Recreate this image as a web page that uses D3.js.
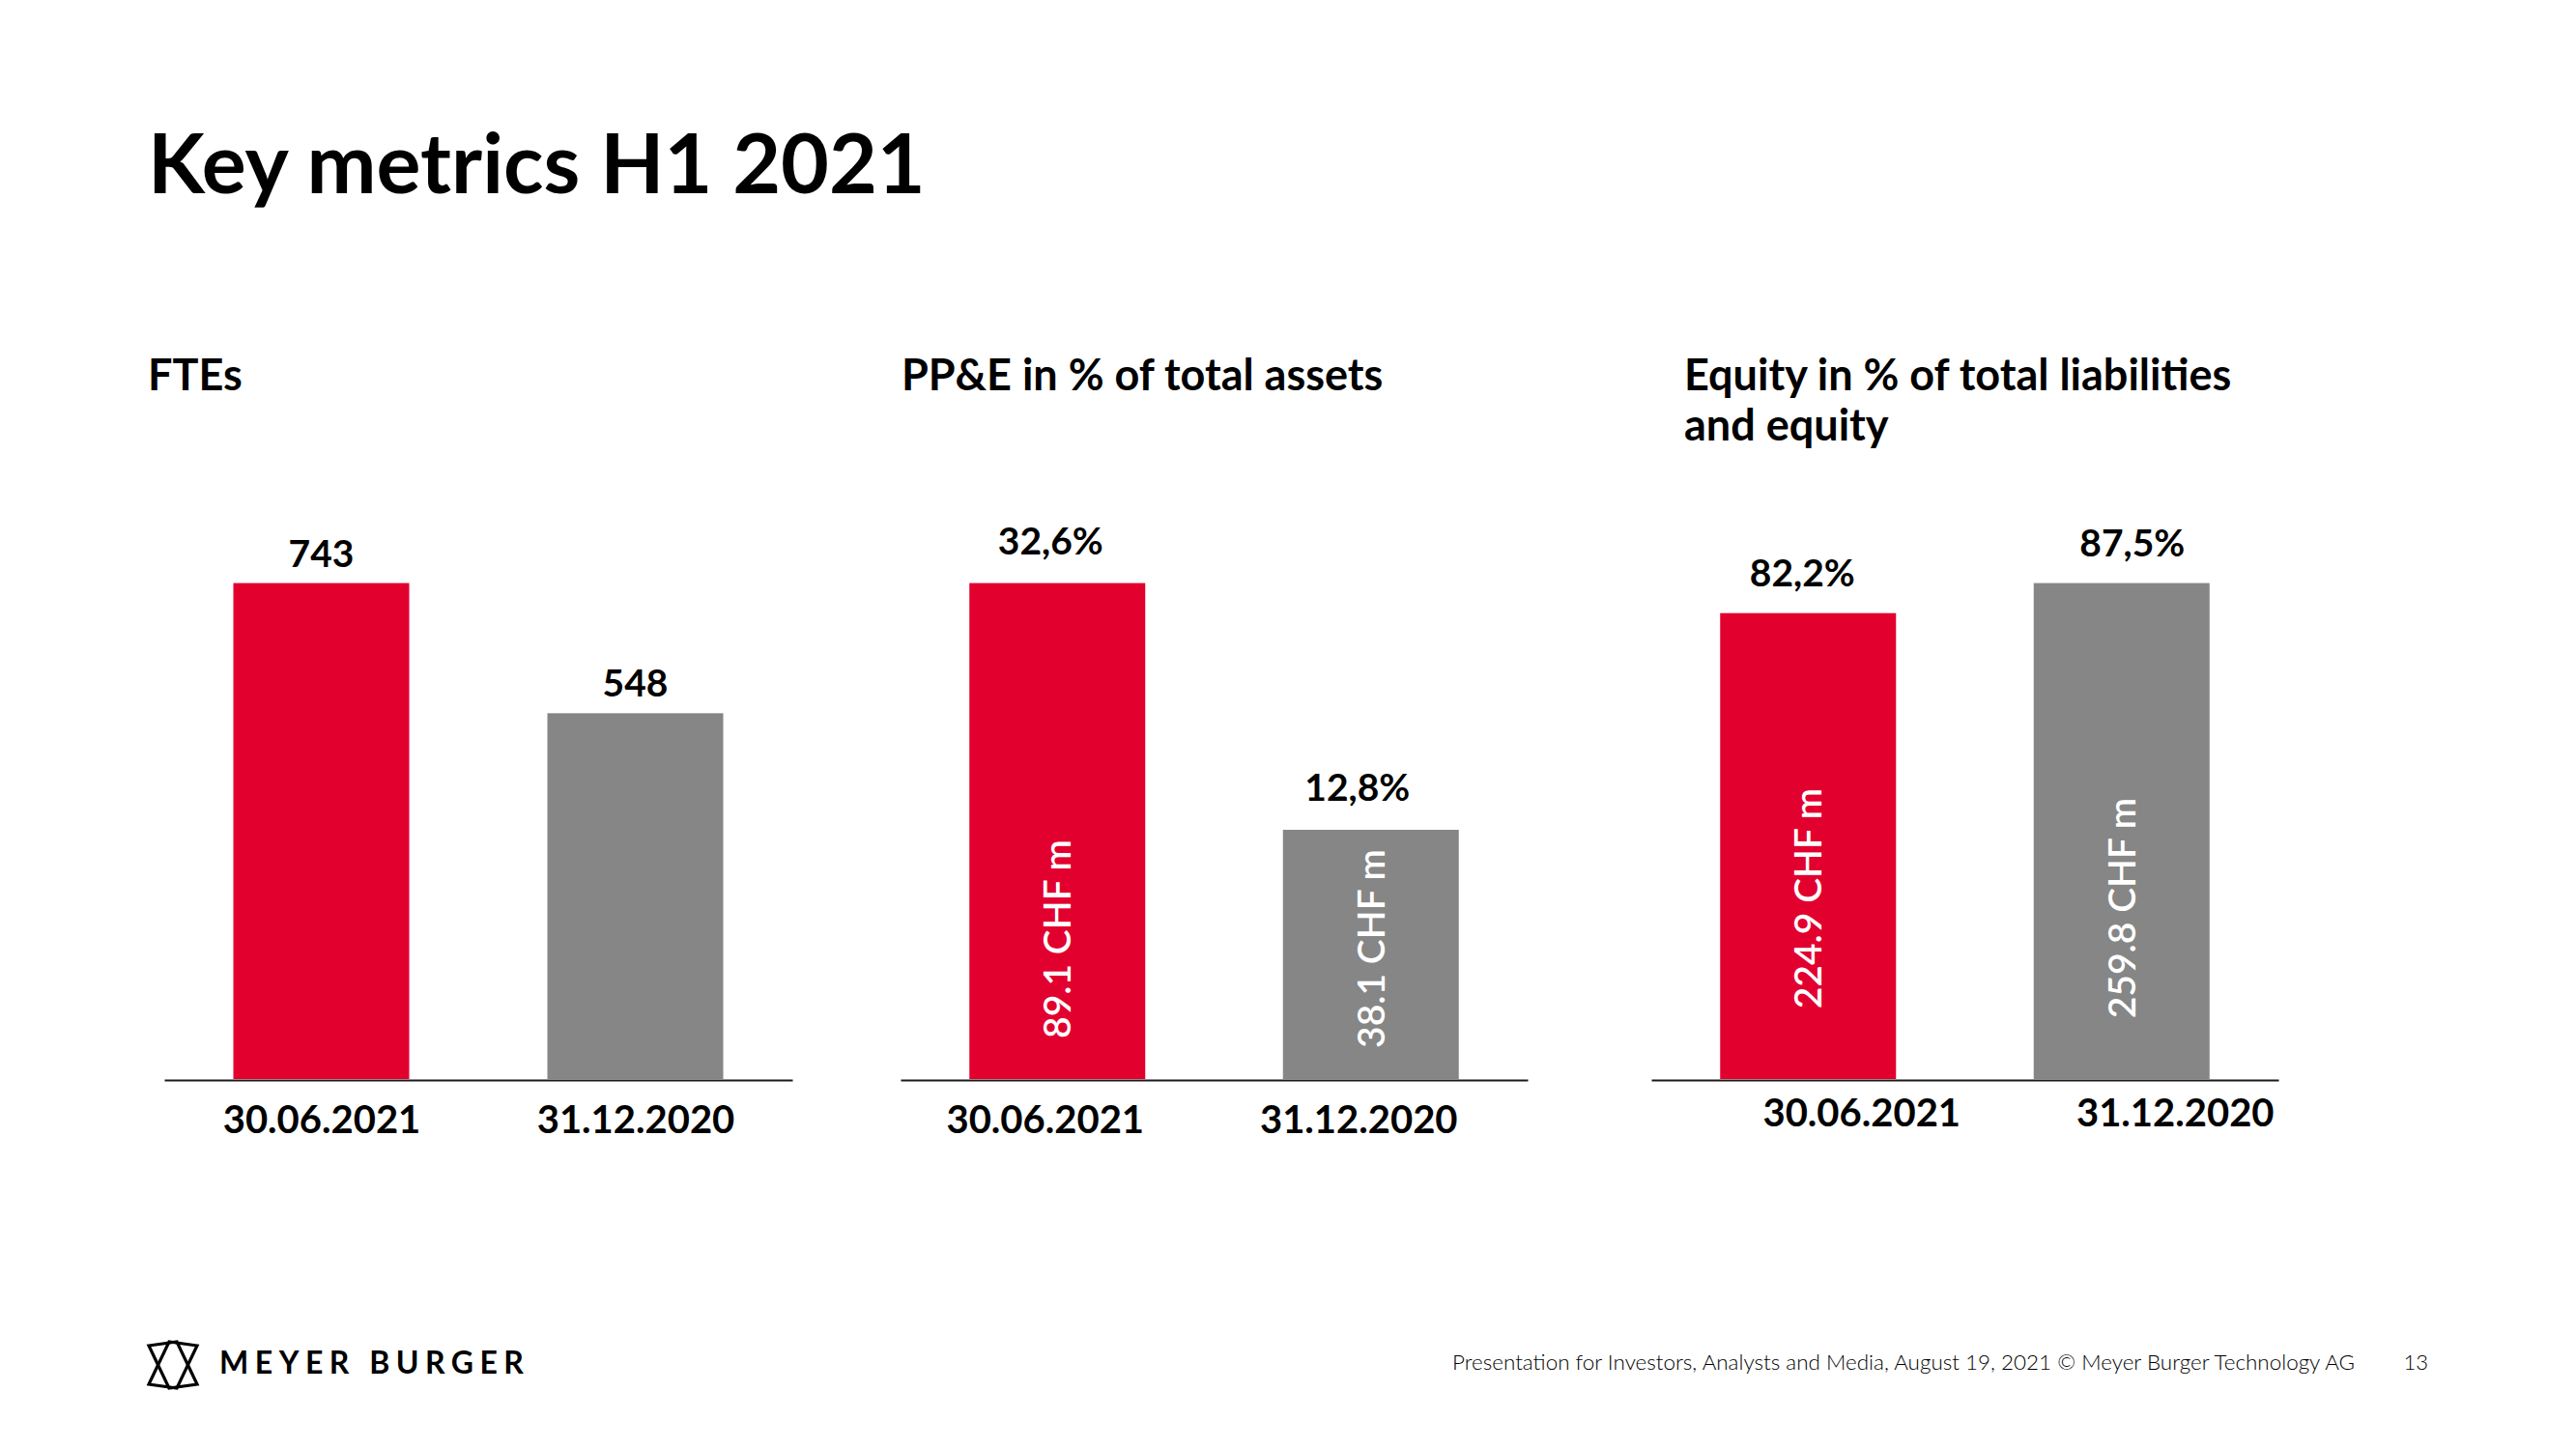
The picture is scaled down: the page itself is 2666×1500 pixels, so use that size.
<!DOCTYPE html>
<html>
<head>
<meta charset="utf-8">
<script src="https://cdn.jsdelivr.net/npm/d3@7/dist/d3.min.js"></script>
<style>
  html, body { margin: 0; padding: 0; background: #fff; }
  svg { display: block; }
  text { font-family: Lato, "Open Sans", sans-serif; }
</style>
</head>
<body>
<svg id="chart" width="2666" height="1500"></svg>
<script>
// ---------- data ----------
const categories = ["30.06.2021", "31.12.2020"];
const fteValues = [743, 548];
const ppeValues = [32.6, 12.8];          // % of total assets
const ppeChfValues = [89.1, 38.1];       // CHF m
const equityValues = [82.2, 87.5];       // % of total liabilities and equity
const equityChfValues = [224.9, 259.8];  // CHF m
const mainTitle = "Key metrics H1 2021";
const panelTitles = [["FTEs"], ["PP&E in % of total assets"], ["Equity in % of total liabilities", "and equity"]];
const footerText = "Presentation for Investors, Analysts and Media, August 19, 2021 \u00A9 Meyer Burger Technology AG";
const pageNumber = "13";
const brandName = "MEYER BURGER";

// ---------- style / layout ----------
const RED = "#E2002F", GREY = "#868686";
const barColors = [RED, GREY];
const plotBottom = 1117, plotTop = 603.6, barWidth = 182;
const pctFmt = v => d3.format(".1f")(v).replace(".", ",") + "%";
const chfFmt = v => d3.format(".1f")(v) + " CHF m";

const panels = [
  { x0: 170, x1: 820, titleX: 153, title: panelTitles[0], values: fteValues, fmt: d3.format("d"),
    domainMin: 0, labelGap: 17, labelDx: [0, 0], tickDx: 0, tickY: 1173, inner: null },
  { x0: 932, x1: 1581, titleX: 933, title: panelTitles[1], values: ppeValues, fmt: pctFmt,
    domainMin: -7.2, labelGap: 30, labelDx: [-7, -14], tickDx: -13, tickY: 1173,
    inner: ppeChfValues, innerMid: [145, 135] },
  { x0: 1709, x1: 2358, titleX: 1743, title: panelTitles[2], values: equityValues, fmt: pctFmt,
    domainMin: 0, labelGap: 28, labelDx: [-6, 11], tickDx: 55, tickY: 1166,
    inner: equityChfValues, innerMid: [187, 177] }
];

const svg = d3.select("#chart");
svg.append("rect").attr("width", 2666).attr("height", 1500).attr("fill", "#fff");

// main title
svg.append("text").attr("x", 153).attr("y", 200)
  .attr("font-size", 86).attr("font-weight", 700).attr("fill", "#000")
  .text(mainTitle);

panels.forEach(p => {
  const g = svg.append("g");
  // panel title
  p.title.forEach((line, i) => {
    g.append("text").attr("x", p.titleX).attr("y", 404 + i * 52)
      .attr("font-size", 45).attr("font-weight", 700).attr("fill", "#000")
      .text(line);
  });

  const x = d3.scalePoint().domain(categories).range([p.x0, p.x1]).padding(0.5);
  const y = d3.scaleLinear().domain([p.domainMin, d3.max(p.values)]).range([plotBottom, plotTop]);

  // bars
  g.selectAll("rect.bar").data(p.values).join("rect")
    .attr("class", "bar")
    .attr("x", (d, i) => x(categories[i]) - barWidth / 2)
    .attr("width", barWidth)
    .attr("y", d => y(d))
    .attr("height", d => plotBottom - y(d))
    .attr("fill", (d, i) => barColors[i]);

  // value labels
  g.selectAll("text.val").data(p.values).join("text")
    .attr("class", "val")
    .attr("x", (d, i) => x(categories[i]) + p.labelDx[i])
    .attr("y", d => y(d) - p.labelGap)
    .attr("text-anchor", "middle")
    .attr("font-size", 39).attr("font-weight", 700).attr("fill", "#000")
    .text(d => p.fmt(d));

  // inner rotated labels
  if (p.inner) {
    g.selectAll("text.inner").data(p.inner).join("text")
      .attr("class", "inner")
      .attr("transform", (d, i) => `translate(${x(categories[i])},${plotBottom - p.innerMid[i]}) rotate(-90)`)
      .attr("text-anchor", "middle")
      .attr("dy", "0.36em")
      .attr("font-size", 39).attr("font-weight", 600).attr("fill", "#fff")
      .text(d => chfFmt(d));
  }

  // axis
  const axis = g.append("g").attr("transform", `translate(0,${plotBottom + 1})`)
    .call(d3.axisBottom(x).tickSize(0).tickSizeOuter(0).tickPadding(0));
  axis.select(".domain").attr("stroke", "#1a1a1a").attr("stroke-width", 2);
  axis.selectAll(".tick text")
    .attr("dy", null)
    .attr("x", p.tickDx)
    .attr("y", p.tickY - plotBottom - 1)
    .attr("font-family", "Lato, 'Open Sans', sans-serif")
    .attr("font-size", 40).attr("font-weight", 700).attr("fill", "#000");
});

// ---------- footer ----------
const logo = svg.append("g").attr("transform", "translate(153,1388)")
  .attr("fill", "none").attr("stroke", "#000").attr("stroke-width", 3.2).attr("stroke-linejoin", "miter");
logo.append("path").attr("d", "M1,5 L30,1 L51,45 L22,49 Z");
logo.append("path").attr("d", "M51,5 L22,1 L1,45 L30,49 Z");

svg.append("text").attr("x", 227).attr("y", 1422)
  .attr("font-size", 32).attr("font-weight", 700).attr("letter-spacing", 6.5).attr("fill", "#000")
  .text(brandName);

svg.append("text").attr("x", 1503).attr("y", 1418)
  .attr("font-size", 22).attr("font-weight", 300).attr("fill", "#000")
  .attr("textLength", 934).attr("lengthAdjust", "spacingAndGlyphs")
  .text(footerText);

svg.append("text").attr("x", 2513).attr("y", 1418).attr("text-anchor", "end")
  .attr("font-size", 22).attr("font-weight", 300).attr("fill", "#000")
  .text(pageNumber);
</script>
</body>
</html>
